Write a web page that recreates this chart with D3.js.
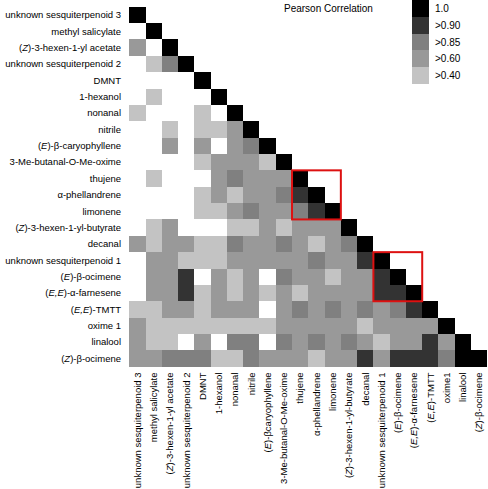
<!DOCTYPE html>
<html><head><meta charset="utf-8">
<script src="https://cdn.jsdelivr.net/npm/d3@7"></script>
<style>
body{margin:0;background:#fff}
text{font-family:"Liberation Sans",Arial,Helvetica,sans-serif;font-size:10px;fill:#000}
text.lab{font-size:9.5px}
</style>
</head><body>
<svg id="chart" width="488" height="489"></svg>
<script>
const rowLabels = [
  "unknown sesquiterpenoid 3","methyl salicylate","(<i>Z</i>)-3-hexen-1-yl acetate","unknown sesquiterpenoid 2",
  "DMNT","1-hexanol","nonanal","nitrile","(<i>E</i>)-β-caryophyllene","3-Me-butanal-O-Me-oxime",
  "thujene","α-phellandrene","limonene","(<i>Z</i>)-3-hexen-1-yl-butyrate","decanal",
  "unknown sesquiterpenoid 1","(<i>E</i>)-β-ocimene","(<i>E,E</i>)-α-farnesene","(<i>E,E</i>)-TMTT",
  "oxime 1","linalool","(<i>Z</i>)-β-ocimene"
];
const colLabels = [
  "unknown sesquiterpenoid 3","methyl salicylate","(<i>Z</i>)-3-hexen-1-yl acetate","unknown sesquiterpenoid 2",
  "DMNT","1-hexanol","nonanal","nitrile","(<i>E</i>)-βcaryophyllene","3-Me-butanal-O-Me-oxime",
  "thujene","α-phellandrene","limonene","(<i>Z</i>)-3-hexen-1-yl-butyrate","decanal",
  "unknown sesquiterpenoid 1","(<i>E</i>)-β-ocimene","(<i>E,E</i>)-α-farnesene","(<i>E,E</i>)-TMTT",
  "oxime1","linalool","(<i>Z</i>)-β-ocimene"
];
// lower-triangle Pearson correlations, row r has r+1 values
const corrRows = [
  [1],
  [0.2,1],
  [0.75,0.2,1],
  [0.2,0.5,0.87,1],
  [0.2,0.2,0.2,0.2,1],
  [0.2,0.5,0.2,0.2,0.2,1],
  [0.5,0.2,0.2,0.2,0.5,0.2,1],
  [0.2,0.2,0.5,0.2,0.5,0.5,0.75,1],
  [0.2,0.2,0.75,0.2,0.75,0.2,0.75,0.87,1],
  [0.2,0.2,0.2,0.2,0.5,0.75,0.75,0.75,0.5,1],
  [0.2,0.5,0.2,0.2,0.2,0.75,0.87,0.75,0.75,0.75,1],
  [0.2,0.2,0.2,0.2,0.5,0.75,0.5,0.75,0.75,0.87,0.95,1],
  [0.2,0.2,0.2,0.2,0.5,0.5,0.75,0.87,0.75,0.75,0.87,0.95,1],
  [0.2,0.5,0.75,0.2,0.2,0.2,0.5,0.5,0.75,0.5,0.75,0.75,0.75,1],
  [0.75,0.5,0.75,0.75,0.5,0.5,0.87,0.75,0.75,0.87,0.75,0.5,0.75,0.87,1],
  [0.2,0.75,0.75,0.5,0.5,0.5,0.75,0.75,0.75,0.75,0.75,0.87,0.75,0.75,0.95,1],
  [0.2,0.75,0.75,0.95,0.2,0.75,0.5,0.75,0.2,0.87,0.75,0.75,0.5,0.75,0.75,0.95,1],
  [0.2,0.75,0.75,0.95,0.5,0.75,0.5,0.75,0.5,0.75,0.5,0.75,0.75,0.75,0.75,0.95,0.95,1],
  [0.5,0.5,0.75,0.75,0.5,0.75,0.75,0.75,0.2,0.75,0.87,0.75,0.87,0.75,0.87,0.75,0.87,0.95,1],
  [0.75,0.5,0.5,0.5,0.5,0.5,0.5,0.5,0.5,0.75,0.75,0.75,0.75,0.75,0.5,0.75,0.75,0.75,0.75,1],
  [0.75,0.5,0.5,0.2,0.75,0.2,0.87,0.87,0.2,0.87,0.75,0.87,0.75,0.87,0.75,0.5,0.75,0.75,0.95,0.75,1],
  [0.75,0.75,0.87,0.87,0.87,0.5,0.5,0.87,0.75,0.75,0.75,0.5,0.75,0.75,0.95,0.75,0.95,0.95,0.95,0.87,1,1]
];
const legendLabels = ["1.0", ">0.90", ">0.85", ">0.60", ">0.40"];
const legendValues = [1.0, 0.95, 0.87, 0.75, 0.5];
const thresholds = [0.40, 0.60, 0.85, 0.90, 1.0];
const shades = ["#ffffff","#c3c3c3","#999999","#808080","#333333","#000000"];
const highlightBlocks = [[10,12],[15,17]];
const titleText = "Pearson Correlation";

const n = rowLabels.length;
const svg = d3.select("#chart");
const x = d3.scaleBand().domain(d3.range(n)).range([129.3, 487.3]);
const y = d3.scaleBand().domain(d3.range(n)).range([6.7, 366.7]);
const color = d3.scaleThreshold().domain(thresholds).range(shades);

const cells = [];
corrRows.forEach((row, r) => row.forEach((v, c) => cells.push({r, c, v})));

svg.append("g").selectAll("rect").data(cells).join("rect")
  .attr("x", d => x(d.c)).attr("y", d => y(d.r))
  .attr("width", x.bandwidth()).attr("height", y.bandwidth())
  .attr("fill", d => color(d.v))
  .attr("shape-rendering", "crispEdges");

function rich(sel, str) {
  str.split(/(<i>.*?<\/i>)/).filter(s => s.length).forEach(part => {
    const it = part.startsWith("<i>");
    sel.append("tspan").text(it ? part.slice(3, -4) : part)
      .attr("font-style", it ? "italic" : null);
  });
}

// row labels
svg.append("g").selectAll("text").data(rowLabels).join("text")
  .attr("class", "lab")
  .attr("x", 121).attr("y", (d, i) => y(i) + y.bandwidth() / 2)
  .attr("dy", "0.35em").attr("text-anchor", "end")
  .each(function(d) { rich(d3.select(this), d); });

// column labels
svg.append("g").selectAll("text").data(colLabels).join("text")
  .attr("class", "lab")
  .attr("transform", (d, i) => `translate(${x(i) + x.bandwidth() / 2},372.5) rotate(-90)`)
  .attr("dy", "0.35em").attr("text-anchor", "end")
  .each(function(d) { rich(d3.select(this), d); });

// highlight boxes
svg.append("g").selectAll("rect").data(highlightBlocks).join("rect")
  .attr("x", d => x(d[0])).attr("y", d => y(d[0]))
  .attr("width", d => x(d[1]) + x.bandwidth() - x(d[0]))
  .attr("height", d => y(d[1]) + y.bandwidth() - y(d[0]))
  .attr("fill", "none").attr("stroke", "#dd1111").attr("stroke-width", 2);

// legend
svg.append("text").attr("x", 284).attr("y", 11.5).text(titleText);
const lg = svg.append("g");
const lh = 16.8;
lg.selectAll("rect").data(legendValues).join("rect")
  .attr("x", 411.7).attr("y", (d, i) => i * lh)
  .attr("width", 17.6).attr("height", lh)
  .attr("fill", d => color(d)).attr("shape-rendering", "crispEdges");
lg.selectAll("text").data(legendLabels).join("text")
  .attr("x", 435).attr("y", (d, i) => i * lh + lh / 2)
  .attr("dy", "0.35em").text(d => d);
</script>
</body></html>
